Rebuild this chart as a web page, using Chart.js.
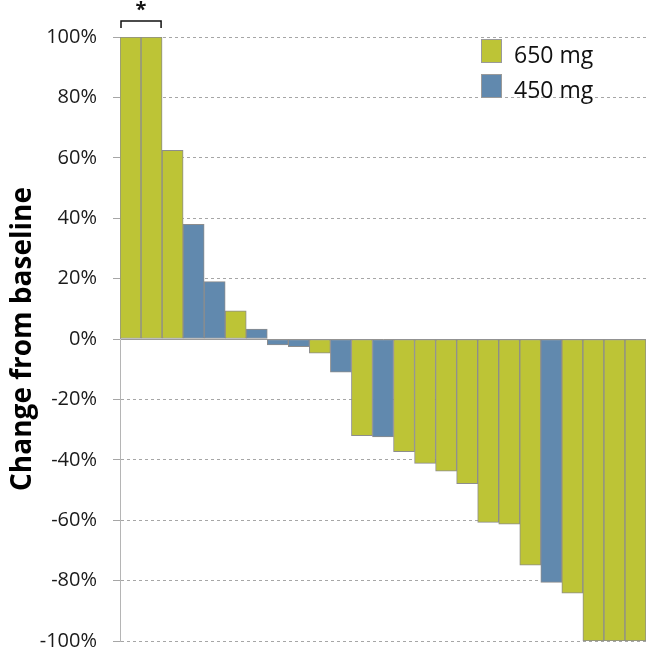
<!DOCTYPE html>
<html>
<head>
<meta charset="utf-8">
<script src="https://cdn.jsdelivr.net/npm/chart.js@4"></script>
<style>
  html, body { margin: 0; padding: 0; background: #fff; }
  #wrap { width: 649px; height: 652px; }
</style>
</head>
<body>
<div id="wrap"><canvas id="waterfall"></canvas></div>
<script>
// one bar per patient, sorted by best change from baseline
const patients = ['1','2','3','4','5','6','7','8','9','10','11','12','13','14','15','16','17','18','19','20','21','22','23','24','25'];
const change = [100, 100, 62.5, 38, 19, 9.3, 3.3, -2, -2.5, -4.7, -11, -32, -32.4, -37.3, -41.2, -43.8, -47.9, -60.7, -61.3, -74.9, -80.6, -84.2, -100, -100, -100];
const dose = ['650','650','650','450','450','650','450','450','450','650','450','650','450','650','650','650','650','650','650','650','450','650','650','650','650'];
const yTicks = [-100, -80, -60, -40, -20, 0, 20, 40, 60, 80, 100];

const doseLabels = { '650': '650 mg', '450': '450 mg' };
const doseColors = { '650': '#bdc436', '450': '#6189ae' };

const datasets = ['650', '450'].map(d => ({
    label: doseLabels[d],
    data: change.map((v, i) => dose[i] === d ? v : null),
    backgroundColor: doseColors[d],
    borderColor: '#8d8d8d',
    borderWidth: 1,
    borderSkipped: false,
    grouped: false,
    categoryPercentage: 1,
    barPercentage: 1
}));

// legend in the top right corner
const cornerLegend = {
    id: 'cornerLegend',
    afterDraw(chart) {
        const ctx = chart.ctx;
        ctx.save();
        chart.data.datasets.forEach((ds, i) => {
            const y = 39 + i * 35;
            ctx.fillStyle = ds.backgroundColor;
            ctx.fillRect(481, y, 20, 23);
            ctx.strokeStyle = '#9a9a9a';
            ctx.lineWidth = 1;
            ctx.strokeRect(481.5, y + 0.5, 20, 23);
            ctx.fillStyle = '#111';
            ctx.font = '23px "Open Sans"';
            ctx.textBaseline = 'alphabetic';
            ctx.fillText(ds.label, 514, y + 24);
        });
        ctx.restore();
    }
};

// bracket with asterisk over the first two bars
const bracket = {
    id: 'bracket',
    afterDraw(chart) {
        const x = chart.scales.x;
        const ctx = chart.ctx;
        const w = x.getPixelForValue(1) - x.getPixelForValue(0);
        const x0 = x.getPixelForValue(0) - w / 2 + 1;
        const x1 = x.getPixelForValue(1) + w / 2 - 1;
        const top = chart.chartArea.top;
        ctx.save();
        ctx.strokeStyle = '#111';
        ctx.lineWidth = 1.5;
        ctx.beginPath();
        ctx.moveTo(x0, top - 9);
        ctx.lineTo(x0, top - 16);
        ctx.lineTo(x1, top - 16);
        ctx.lineTo(x1, top - 9);
        ctx.stroke();
        ctx.fillStyle = '#111';
        ctx.font = 'bold 20px "Open Sans"';
        ctx.textAlign = 'center';
        ctx.textBaseline = 'middle';
        ctx.fillText('*', (x0 + x1) / 2, top - 27);
        ctx.restore();
    }
};

new Chart(document.getElementById('waterfall'), {
    type: 'bar',
    data: { labels: patients, datasets: datasets },
    options: {
        responsive: true,
        maintainAspectRatio: false,
        animation: false,
        layout: { padding: { top: 37, bottom: 11, right: 3, left: 0 } },
        plugins: {
            legend: { display: false },
            tooltip: { enabled: false }
        },
        scales: {
            x: { display: false },
            y: {
                min: -100,
                max: 100,
                afterFit: axis => {
                    axis.width = 120;
                    axis.paddingTop = 0;
                    axis.paddingBottom = 0;
                },
                afterBuildTicks: axis => { axis.ticks = yTicks.map(v => ({ value: v })); },
                ticks: {
                    padding: 16,
                    color: '#1a1a1a',
                    font: { family: '"Open Sans"', size: 20 },
                    callback: v => v + '%'
                },
                grid: {
                    color: ctx => ctx.tick && ctx.tick.value === 0 ? '#9a9a9a' : '#a6a6a6',
                    tickLength: 7,
                    tickColor: '#a6a6a6',
                    lineWidth: 1
                },
                border: {
                    display: true,
                    color: '#b5b5b5',
                    dash: ctx => ctx.tick && ctx.tick.value === 0 ? [] : [3, 3]
                },
                title: {
                    display: true,
                    text: 'Change from baseline',
                    color: '#000',
                    font: { family: '"Open Sans"', size: 28, weight: 'bold' },
                    padding: { top: 6, bottom: 0 }
                }
            }
        }
    },
    plugins: [cornerLegend, bracket]
});
</script>
</body>
</html>
